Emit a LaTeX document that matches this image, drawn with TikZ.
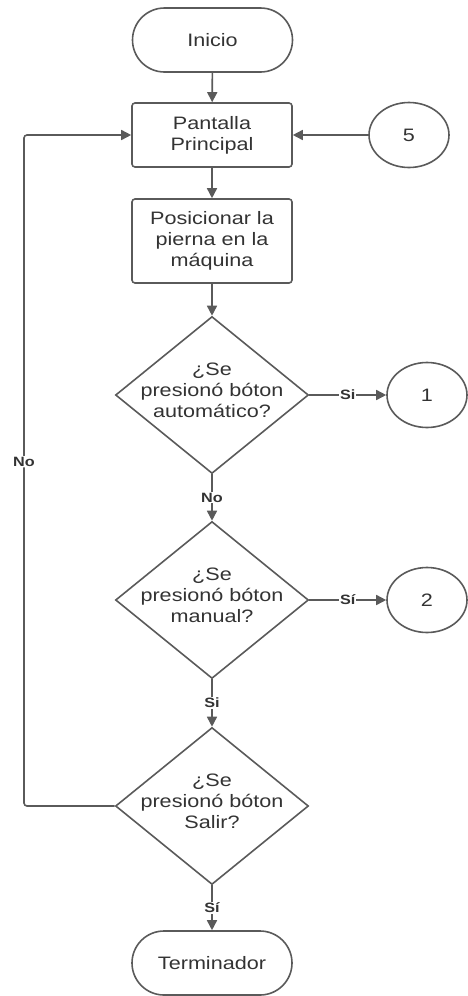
\documentclass[tikz,border=0pt]{standalone}
\usepackage{fontspec}
\setmainfont{Liberation Sans}[FakeStretch=1.2]
\usetikzlibrary{shapes.geometric,shapes.misc,arrows.meta}
\definecolor{ln}{HTML}{5A5A5A}
\definecolor{tx}{HTML}{333333}
\tikzset{
  x=1pt,y=1pt,
  base/.style={draw=ln,line width=1.6pt,text=tx,font=\fontsize{18}{21}\selectfont,align=center,inner sep=0pt},
  procbox/.style={base,rectangle,rounded corners=3pt,minimum width=160pt},
  termbox/.style={base,rounded rectangle,minimum width=160pt,minimum height=64pt},
  conn/.style={base,ellipse,minimum width=80pt,minimum height=65pt},
  decide/.style={base,diamond,minimum width=193pt,minimum height=157pt},
  arr/.style={draw=ln,line width=1.6pt,-{Triangle[length=10pt,width=10pt]}},
  lbl/.style={fill=white,text=tx,font=\bfseries\fontsize{13.5}{15}\selectfont,inner sep=1pt}
}
\begin{document}
\begin{tikzpicture}
\useasboundingbox (0,0) rectangle (467,-996);
\node[termbox] (ini) at (212.5,-40) {Inicio};
\node[procbox,minimum height=64pt] (pant) at (212,-135) {Pantalla\\Principal};
\node[conn] (five) at (409,-135) {5};
\node[procbox,minimum height=84pt] (pos) at (212,-241) {Posicionar la\\pierna en la\\máquina};
\node[decide,label={[base,draw=none,yshift=5pt]center:{¿Se\\presionó bóton\\automático?}}] (d1) at (212,-395) {};
\node[conn] (c1) at (427,-395) {1};
\node[decide,label={[base,draw=none,yshift=5pt]center:{¿Se\\presionó bóton\\manual?}}] (d2) at (212,-600) {};
\node[conn] (c2) at (427,-600) {2};
\node[decide,label={[base,draw=none,yshift=5pt]center:{¿Se\\presionó bóton\\Salir?}}] (d3) at (212,-806) {};
\node[termbox] (term) at (212,-963) {Terminador};
\coordinate (lb) at (24,-806);
\coordinate (lt) at (24,-135);

\draw[arr] (ini) -- (pant);
\draw[arr] (five) -- (pant);
\draw[arr] (pant) -- (pos);
\draw[arr] (pos) -- (d1);
\draw[arr] (d1.east) -- node[lbl]{Si} (c1.west);
\draw[arr] (d1.south) -- node[lbl]{No} (d2.north);
\draw[arr] (d2.east) -- node[lbl]{Sí} (c2.west);
\draw[arr] (d2.south) -- node[lbl]{Si} (d3.north);
\draw[arr] (d3.south) -- node[lbl]{Sí} (term.north);
\draw[arr,rounded corners=3pt] (d3.west) -- (lb) -- node[lbl,pos=0.513]{No} (lt) -- (pant.west);
\end{tikzpicture}
\end{document}
